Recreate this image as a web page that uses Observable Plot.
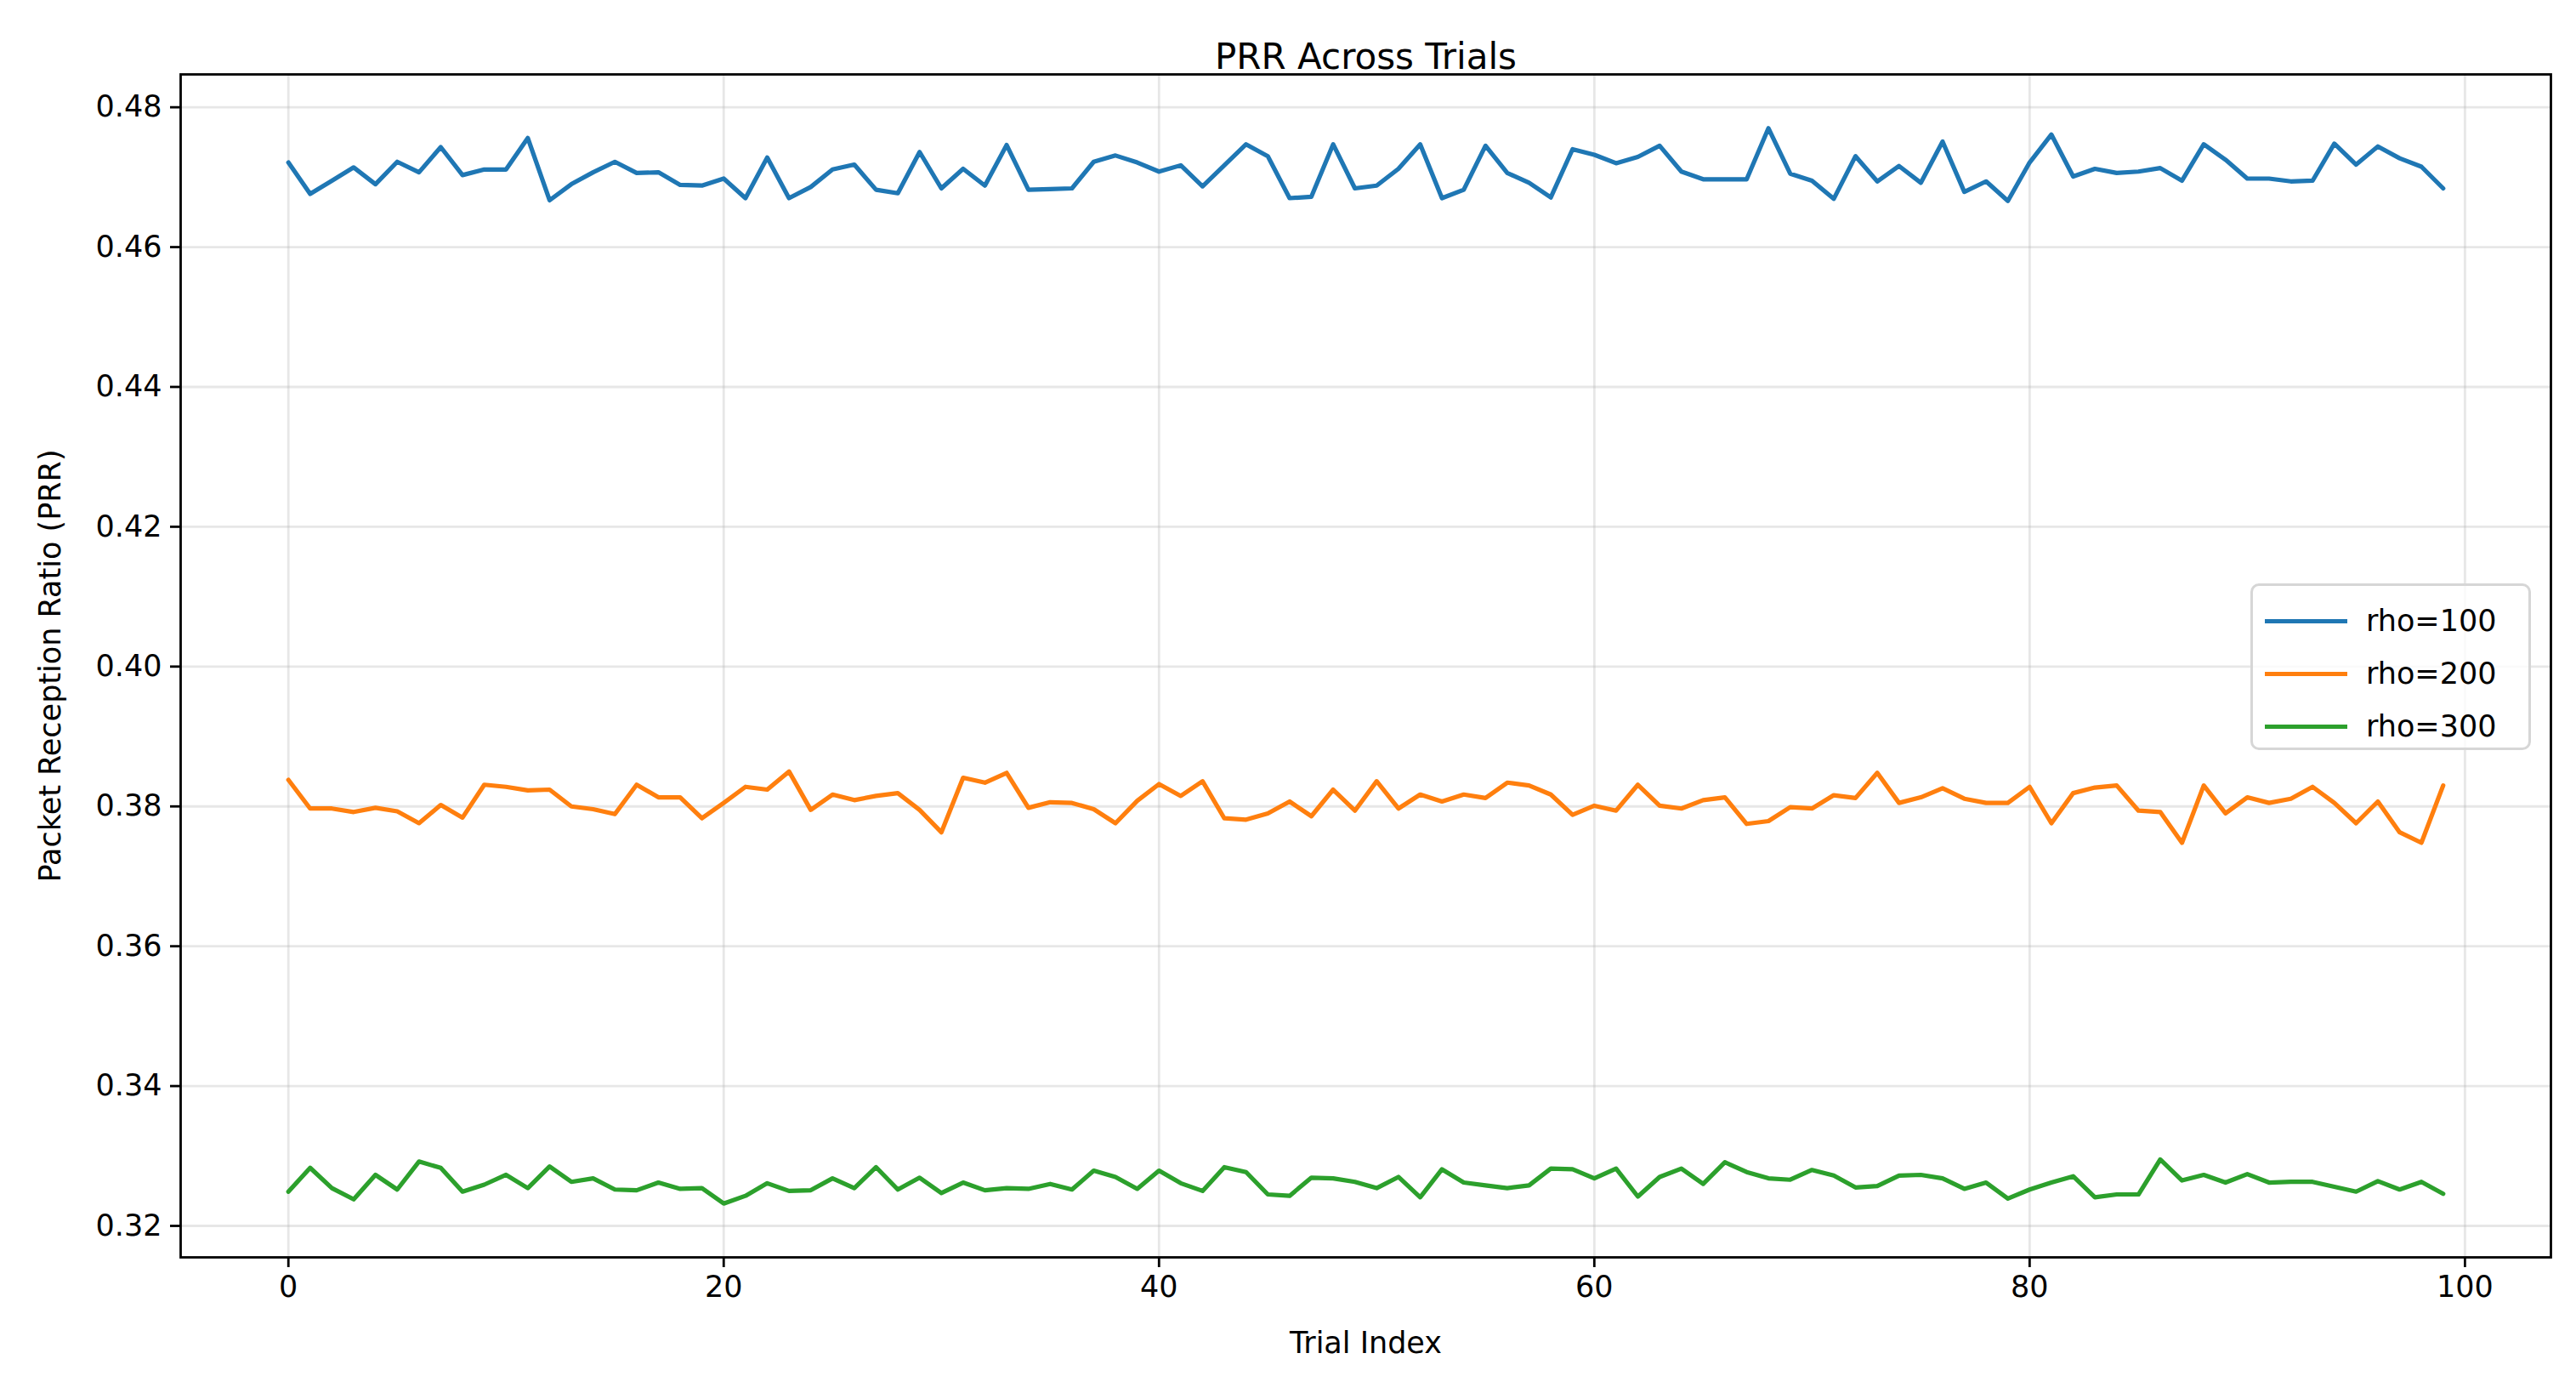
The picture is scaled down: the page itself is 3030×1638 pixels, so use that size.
<!DOCTYPE html>
<html>
<head>
<meta charset="utf-8">
<script src="https://cdn.jsdelivr.net/npm/d3@7"></script>
<script src="https://cdn.jsdelivr.net/npm/@observablehq/plot@0.6"></script>
<style>
  body { margin: 0; background: #fff; font-family: "DejaVu Sans", sans-serif; }
  #wrap { position: relative; width: 3030px; height: 1638px; }
  #legend { position: absolute; left: 2647px; top: 686px; width: 330px; height: 196px;
    border: 3px solid #d6d6d6; border-radius: 10px; background: rgba(255,255,255,0.8);
    box-sizing: border-box; font-size: 35px; padding-top: 10px; }
  .item { display: flex; align-items: center; height: 62px; }
  .swatch { width: 97px; height: 5px; margin-left: 14px; margin-right: 22px; }
</style>
</head>
<body>
<div id="wrap">
  <div id="chart"></div>
  <div id="legend"></div>
</div>
<script>
const series = ["rho=100", "rho=200", "rho=300"];
const colors = ["#1f77b4", "#ff7f0e", "#2ca02c"];

const rho100 = [
  0.4721, 0.4676, 0.4695, 0.4714, 0.4690, 0.4722, 0.4707, 0.4743, 0.4703, 0.4711,
  0.4711, 0.4756, 0.4667, 0.4690, 0.4707, 0.4722, 0.4706, 0.4707, 0.4689, 0.4688,
  0.4698, 0.4670, 0.4728, 0.4670, 0.4686, 0.4711, 0.4718, 0.4682, 0.4677, 0.4736,
  0.4684, 0.4712, 0.4688, 0.4746, 0.4682, 0.4683, 0.4684, 0.4722, 0.4731, 0.4721,
  0.4708, 0.4717, 0.4687, 0.4717, 0.4747, 0.4730, 0.4670, 0.4672, 0.4747, 0.4684,
  0.4688, 0.4712, 0.4747, 0.4670, 0.4682, 0.4745, 0.4706, 0.4692, 0.4671, 0.4740,
  0.4732, 0.4720, 0.4729, 0.4745, 0.4708, 0.4697, 0.4697, 0.4697, 0.4770, 0.4705,
  0.4695, 0.4669, 0.4730, 0.4694, 0.4716, 0.4692, 0.4751, 0.4679, 0.4694, 0.4666,
  0.4721, 0.4761, 0.4701, 0.4712, 0.4706, 0.4708, 0.4713, 0.4695, 0.4747, 0.4725,
  0.4698, 0.4698, 0.4694, 0.4695, 0.4748, 0.4718, 0.4744, 0.4727, 0.4715, 0.4684
];
const rho200 = [
  0.3838, 0.3797, 0.3797, 0.3792, 0.3798, 0.3793, 0.3776, 0.3802, 0.3784, 0.3831,
  0.3828, 0.3823, 0.3824, 0.3800, 0.3796, 0.3789, 0.3831, 0.3813, 0.3813, 0.3783,
  0.3805, 0.3828, 0.3824, 0.3850, 0.3795, 0.3817, 0.3809, 0.3815, 0.3819, 0.3795,
  0.3763, 0.3841, 0.3834, 0.3848, 0.3798, 0.3806, 0.3805, 0.3796, 0.3776, 0.3808,
  0.3832, 0.3815, 0.3836, 0.3783, 0.3781, 0.3790, 0.3807, 0.3786, 0.3824, 0.3794,
  0.3836, 0.3797, 0.3817, 0.3807, 0.3817, 0.3812, 0.3834, 0.3830, 0.3817, 0.3788,
  0.3801, 0.3794, 0.3831, 0.3801, 0.3797, 0.3809, 0.3813, 0.3775, 0.3779, 0.3799,
  0.3797, 0.3816, 0.3812, 0.3848, 0.3805, 0.3813, 0.3826, 0.3811, 0.3805, 0.3805,
  0.3828, 0.3776, 0.3819, 0.3827, 0.3830, 0.3794, 0.3792, 0.3748, 0.3830, 0.3790,
  0.3813, 0.3805, 0.3811, 0.3828, 0.3805, 0.3776, 0.3807, 0.3763, 0.3748, 0.3830
];
const rho300 = [
  0.3249, 0.3283, 0.3254, 0.3238, 0.3273, 0.3252, 0.3292, 0.3283, 0.3249, 0.3259,
  0.3273, 0.3254, 0.3285, 0.3263, 0.3268, 0.3252, 0.3251, 0.3262, 0.3253, 0.3254,
  0.3232, 0.3243, 0.3261, 0.3250, 0.3251, 0.3268, 0.3254, 0.3284, 0.3252, 0.3269,
  0.3247, 0.3262, 0.3251, 0.3254, 0.3253, 0.3260, 0.3252, 0.3279, 0.3270, 0.3253,
  0.3279, 0.3261, 0.3250, 0.3284, 0.3277, 0.3245, 0.3243, 0.3269, 0.3268, 0.3263,
  0.3254, 0.3270, 0.3241, 0.3281, 0.3262, 0.3258, 0.3254, 0.3258, 0.3282, 0.3281,
  0.3268, 0.3282, 0.3242, 0.3270, 0.3282, 0.3260, 0.3291, 0.3277, 0.3268, 0.3266,
  0.3280, 0.3272, 0.3255, 0.3257, 0.3272, 0.3273, 0.3268, 0.3253, 0.3262, 0.3239,
  0.3252, 0.3262, 0.3271, 0.3241, 0.3245, 0.3245, 0.3295, 0.3265, 0.3273, 0.3262,
  0.3274, 0.3262, 0.3263, 0.3263, 0.3256, 0.3249, 0.3264, 0.3252, 0.3263, 0.3246
];
const xTicks = [0, 20, 40, 60, 80, 100];
const yTicks = [0.32, 0.34, 0.36, 0.38, 0.40, 0.42, 0.44, 0.46, 0.48];

const allSeries = [rho100, rho200, rho300];
const data = allSeries.flatMap((vals, s) => vals.map((v, i) => ({ trial: i, prr: v, rho: series[s] })));

const chart = Plot.plot({
  width: 3030,
  height: 1638,
  marginLeft: 212,
  marginRight: 30,
  marginTop: 87,
  marginBottom: 160,
  style: { fontFamily: "DejaVu Sans", fontSize: "35px", color: "#000", background: "#fff" },
  x: { domain: [-4.95, 103.95] },
  y: { domain: [0.3155, 0.4847] },
  color: { domain: series, range: colors },
  marks: [
    Plot.gridX(xTicks, { stroke: "#b0b0b0", strokeOpacity: 0.3, strokeWidth: 2.8 }),
    Plot.gridY(yTicks, { stroke: "#b0b0b0", strokeOpacity: 0.3, strokeWidth: 2.8 }),
    Plot.line(data, { x: "trial", y: "prr", z: "rho", stroke: "rho", strokeWidth: 5.2 }),
    Plot.frame({ stroke: "#000", strokeWidth: 2.8 }),
    Plot.axisX({ ticks: xTicks, tickSize: 12, tickPadding: 10, tickFormat: d3.format("d"),
      label: "Trial Index", labelAnchor: "center", labelArrow: "none", labelOffset: 112, strokeWidth: 2.8 }),
    Plot.axisY({ ticks: yTicks, tickSize: 12, tickPadding: 10, tickFormat: d3.format(".2f"),
      label: "Packet Reception Ratio (PRR)", labelAnchor: "center", labelArrow: "none", labelOffset: 166, strokeWidth: 2.8 }),
    Plot.text(["PRR Across Trials"], { frameAnchor: "top", dy: -36, fontSize: 42 })
  ]
});
document.getElementById("chart").appendChild(chart);

const legend = document.getElementById("legend");
series.forEach((name, i) => {
  const item = document.createElement("div");
  item.className = "item";
  item.innerHTML = `<span class="swatch" style="background:${colors[i]}"></span><span>${name}</span>`;
  legend.appendChild(item);
});
</script>
</body>
</html>
